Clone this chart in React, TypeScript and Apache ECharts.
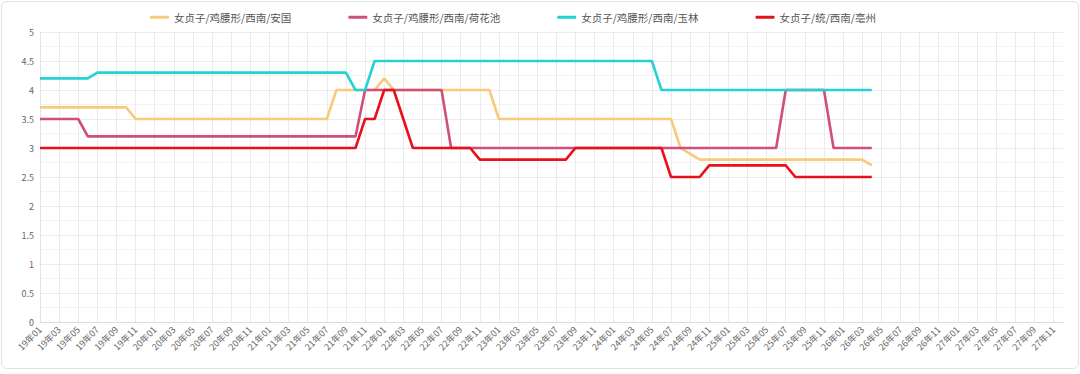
import React, { useEffect, useRef } from "react";
import * as echarts from "echarts";

const years = ["19", "20", "21", "22", "23", "24", "25", "26", "27"];
const months = ["01", "02", "03", "04", "05", "06", "07", "08", "09", "10", "11", "12"];
const categories: string[] = [];
for (const y of years) for (const m of months) categories.push(`${y}年${m}`);

const seriesNames = [
  "女贞子/鸡腰形/西南/安国",
  "女贞子/鸡腰形/西南/荷花池",
  "女贞子/鸡腰形/西南/玉林",
  "女贞子/统/西南/亳州",
];

const anguo = [
  3.7, 3.7, 3.7, 3.7, 3.7, 3.7, 3.7, 3.7, 3.7, 3.7,
  3.5, 3.5, 3.5, 3.5, 3.5, 3.5, 3.5, 3.5, 3.5, 3.5, 3.5, 3.5, 3.5, 3.5, 3.5, 3.5, 3.5, 3.5, 3.5, 3.5, 3.5,
  4, 4, 4, 4, 4,
  4.2,
  4, 4, 4, 4, 4, 4, 4, 4, 4, 4, 4,
  3.5, 3.5, 3.5, 3.5, 3.5, 3.5, 3.5, 3.5, 3.5, 3.5, 3.5, 3.5, 3.5, 3.5, 3.5, 3.5, 3.5, 3.5, 3.5,
  3, 2.9,
  2.8, 2.8, 2.8, 2.8, 2.8, 2.8, 2.8, 2.8, 2.8, 2.8, 2.8, 2.8, 2.8, 2.8, 2.8, 2.8, 2.8, 2.8,
  2.7,
];

const hehuachi = [
  3.5, 3.5, 3.5, 3.5, 3.5,
  3.2, 3.2, 3.2, 3.2, 3.2, 3.2, 3.2, 3.2, 3.2, 3.2, 3.2, 3.2, 3.2, 3.2, 3.2, 3.2, 3.2, 3.2, 3.2, 3.2, 3.2, 3.2, 3.2, 3.2, 3.2, 3.2, 3.2, 3.2, 3.2,
  4, 4, 4, 4, 4, 4, 4, 4, 4,
  3, 3, 3, 3, 3, 3, 3, 3, 3, 3, 3, 3, 3, 3, 3, 3, 3, 3, 3, 3, 3, 3, 3, 3, 3, 3, 3, 3, 3, 3, 3, 3, 3, 3, 3,
  4, 4, 4, 4, 4,
  3, 3, 3, 3, 3,
];

const yulin = [
  4.2, 4.2, 4.2, 4.2, 4.2, 4.2,
  4.3, 4.3, 4.3, 4.3, 4.3, 4.3, 4.3, 4.3, 4.3, 4.3, 4.3, 4.3, 4.3, 4.3, 4.3, 4.3, 4.3, 4.3, 4.3, 4.3, 4.3, 4.3, 4.3, 4.3, 4.3, 4.3, 4.3,
  4, 4,
  4.5, 4.5, 4.5, 4.5, 4.5, 4.5, 4.5, 4.5, 4.5, 4.5, 4.5, 4.5, 4.5, 4.5, 4.5, 4.5, 4.5, 4.5, 4.5, 4.5, 4.5, 4.5, 4.5, 4.5, 4.5, 4.5, 4.5, 4.5, 4.5, 4.5,
  4, 4, 4, 4, 4, 4, 4, 4, 4, 4, 4, 4, 4, 4, 4, 4, 4, 4, 4, 4, 4, 4, 4,
];

const bozhou = [
  3, 3, 3, 3, 3, 3, 3, 3, 3, 3, 3, 3, 3, 3, 3, 3, 3, 3, 3, 3, 3, 3, 3, 3, 3, 3, 3, 3, 3, 3, 3, 3, 3, 3,
  3.5, 3.5,
  4, 4,
  3.5,
  3, 3, 3, 3, 3, 3, 3,
  2.8, 2.8, 2.8, 2.8, 2.8, 2.8, 2.8, 2.8, 2.8, 2.8,
  3, 3, 3, 3, 3, 3, 3, 3, 3, 3,
  2.5, 2.5, 2.5, 2.5,
  2.7, 2.7, 2.7, 2.7, 2.7, 2.7, 2.7, 2.7, 2.7,
  2.5, 2.5, 2.5, 2.5, 2.5, 2.5, 2.5, 2.5, 2.5,
];

const seriesData = [anguo, hehuachi, yulin, bozhou];
const colors = ["#f9c97c", "#cf4f7a", "#24d1d4", "#e8101a"];

export default function App() {
  const ref = useRef<HTMLDivElement>(null);
  useEffect(() => {
    if (!ref.current) return;
    const chart = echarts.init(ref.current, undefined, { renderer: "svg" });
    chart.setOption({
      animation: false,
      color: colors,
      textStyle: { fontFamily: "'Noto Sans CJK SC', 'Noto Sans', sans-serif" },
      legend: {
        left: 145,
        top: 7,
        itemGap: 57,
        itemWidth: 19,
        itemHeight: 3,
        icon: "roundRect",
        textStyle: { fontSize: 10.5, color: "#555" },
        data: seriesNames,
      },
      grid: { left: 40, right: 17, top: 32, bottom: 52, containLabel: false },
      xAxis: {
        type: "category",
        data: categories,
        boundaryGap: false,
        axisLine: { lineStyle: { color: "#dcdcdc" } },
        axisTick: { show: false },
        axisLabel: { interval: 1, rotate: 45, fontSize: 9, color: "#666", margin: 6 },
        splitLine: { show: true, interval: 1, lineStyle: { color: "#ebebeb" } },
      },
      yAxis: {
        type: "value",
        min: 0,
        max: 5,
        interval: 0.5,
        axisLine: { show: true, lineStyle: { color: "#e2e2e2" } },
        axisTick: { show: false },
        axisLabel: { fontSize: 9, color: "#666", margin: 6 },
        splitLine: { show: true, lineStyle: { color: "#ebebeb" } },
        minorTick: { show: false, splitNumber: 2 },
        minorSplitLine: { show: true, lineStyle: { color: "#f3f3f3" } },
      },
      series: seriesNames.map((name, i) => ({
        name,
        type: "line",
        data: seriesData[i],
        symbol: "none",
        showSymbol: false,
        lineStyle: { width: 2.6, color: colors[i] },
        itemStyle: { color: colors[i] },
      })),
    });
    return () => chart.dispose();
  }, []);
  return (
    <div style={{ position: "fixed", left: 0, top: 0, width: 1080, height: 374, background: "#fff" }}>
      <div ref={ref} style={{ position: "absolute", left: 0, top: 0, width: 1080, height: 374 }} />
      <div
        style={{
          position: "absolute",
          left: 1,
          top: 1,
          width: 1076,
          height: 366,
          border: "1px solid #e3e3e3",
          borderRadius: 6,
          pointerEvents: "none",
        }}
      />
    </div>
  );
}
